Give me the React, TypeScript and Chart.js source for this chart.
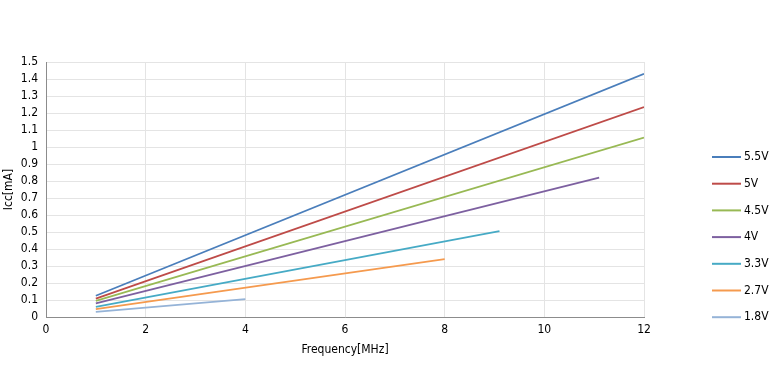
import React, { useEffect, useRef } from "react";
import { Chart, registerables } from "chart.js";

Chart.register(...registerables);

const seriesNames = ["5.5V", "5V", "4.5V", "4V", "3.3V", "2.7V", "1.8V"];
const seriesColors = ["#4a7ebb", "#be4b48", "#98b954", "#7d60a0", "#46aac5", "#f59a4e", "#95b3d7"];
const startFreq = [1, 1, 1, 1, 1, 1, 1];
const endFreq = [12, 12, 12, 11.1, 9.1, 8, 4];
const startIcc = [0.125, 0.108, 0.095, 0.08, 0.06, 0.046, 0.03];
const endIcc = [1.43, 1.235, 1.055, 0.82, 0.505, 0.34, 0.105];

const FONT = "'DejaVu Sans Condensed', 'DejaVu Sans', sans-serif";
const FS = 12;

const legendPlugin = {
  id: "customLegend",
  afterDraw(chart: any) {
    const ctx = chart.ctx;
    ctx.save();
    ctx.font = `${FS}px ${FONT}`;
    ctx.textBaseline = "middle";
    ctx.fillStyle = "#000";
    seriesNames.forEach((name, i) => {
      const y = 157 + i * 26.7;
      ctx.strokeStyle = seriesColors[i];
      ctx.lineWidth = 2;
      ctx.beginPath();
      ctx.moveTo(712, y);
      ctx.lineTo(741, y);
      ctx.stroke();
      ctx.fillText(name, 744, y);
    });
    ctx.restore();
  },
};

export default function App() {
  const ref = useRef<HTMLCanvasElement>(null);
  useEffect(() => {
    if (!ref.current) return;
    const chart = new Chart(ref.current, {
      type: "scatter",
      data: {
        datasets: seriesNames.map((name, i) => ({
          label: name,
          data: [
            { x: startFreq[i], y: startIcc[i] },
            { x: endFreq[i], y: endIcc[i] },
          ],
          showLine: true,
          borderColor: seriesColors[i],
          backgroundColor: seriesColors[i],
          borderWidth: 1.8,
          pointRadius: 0,
        })),
      },
      options: {
        responsive: false,
        animation: false,
        layout: { padding: { left: 0, top: 62, right: 126, bottom: 19 } },
        plugins: { legend: { display: false }, tooltip: { enabled: false } },
        scales: {
          x: {
            type: "linear",
            min: 0,
            max: 12,
            ticks: { stepSize: 2, color: "#000", font: { family: FONT, size: FS }, padding: 6, autoSkip: false, maxRotation: 0 },
            grid: { color: "#e4e4e4", tickLength: 0 },
            border: { color: "#8c8c8c", width: 1 },
            title: { display: true, text: "Frequency[MHz]", color: "#000", font: { family: FONT, size: FS }, padding: { top: 2, bottom: 0 } },
            afterFit: (s: any) => { s.height = 40; },
          },
          y: {
            min: 0,
            max: 1.5,
            ticks: { stepSize: 0.1, color: "#000", font: { family: FONT, size: FS }, padding: 8, autoSkip: false,
              callback: (v: any) => String(Math.round(Number(v) * 10) / 10) },
            grid: { color: "#e4e4e4", tickLength: 0 },
            border: { color: "#8c8c8c", width: 1 },
            title: { display: true, text: "Icc[mA]", color: "#000", font: { family: FONT, size: FS }, padding: { top: 2, bottom: 0 } },
            afterFit: (s: any) => { s.width = 46; },
          },
        },
      },
      plugins: [legendPlugin],
    });
    return () => chart.destroy();
  }, []);
  return (
    <div style={{ position: "fixed", left: 0, top: 0, width: 770, height: 376, background: "#fff" }}>
      <canvas ref={ref} width={770} height={376} />
    </div>
  );
}
